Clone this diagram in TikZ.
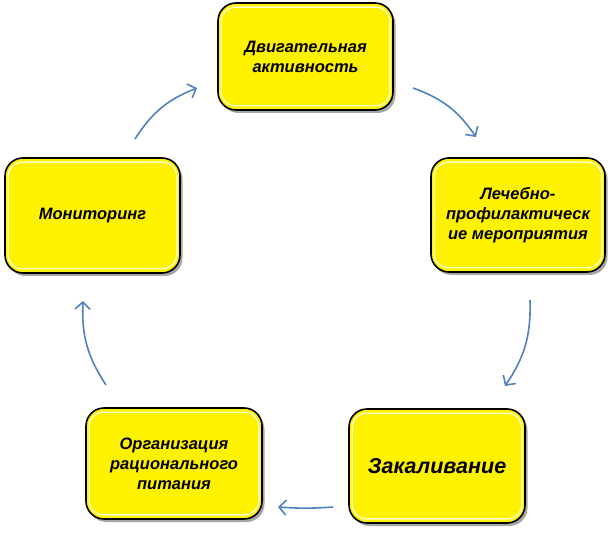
\documentclass[tikz,border=0pt]{standalone}
\usepackage{fontspec}
\setmainfont{Liberation Sans}
\usetikzlibrary{arrows.meta,shadows,calc}
\tikzset{
  stagebox/.style={draw=black, line width=1.6pt, fill=yellow, rounded corners=18pt,
    align=center, font=\fontsize{16.5}{20}\selectfont\bfseries\itshape,
    inner sep=2pt,
    drop shadow={shadow xshift=2.5pt, shadow yshift=-3pt, opacity=0.35, fill=black}},
  cyclearrow/.style={draw={rgb,255:red,79;green,129;blue,189}, line width=1.6pt,
    -{Straight Barb[length=7pt,width=15pt]}},
  gloss/.style={draw=white, line width=1.4pt, opacity=0.8, rounded corners=14pt}
}
\newcommand{\glossfor}[1]{%
  \draw[gloss] ($(#1.south west)+(4pt,5pt)$) rectangle ($(#1.north east)+(-4pt,-5pt)$);}
\begin{document}
\begin{tikzpicture}[x=1pt,y=1pt]
\useasboundingbox (0,0) rectangle (612,533);
\node[stagebox, minimum width=175pt, minimum height=107pt] (top) at (305.5,476.5)
  {Двигательная\\активность};
\node[stagebox, minimum width=174pt, minimum height=114pt] (right) at (518,318)
  {Лечебно-\\профилактическ\\ие мероприятия};
\node[stagebox, minimum width=176pt, minimum height=114pt,
  font=\fontsize{21.5}{24}\selectfont\bfseries\itshape] (harden) at (437,67)
  {Закаливание};
\node[stagebox, minimum width=176pt, minimum height=111pt] (food) at (174,69.5)
  {Организация\\рационального\\питания};
\node[stagebox, minimum width=175pt, minimum height=115pt] (mon) at (92.5,317.5)
  {Мониторинг};
\foreach \n in {top,right,harden,food,mon}{\glossfor{\n}}
\coordinate (a1s) at (135,394); \coordinate (a1e) at (197,445);
\coordinate (a2s) at (413,445); \coordinate (a2e) at (476,396);
\coordinate (a3s) at (530,233); \coordinate (a3e) at (505,147);
\coordinate (a4s) at (333,26);  \coordinate (a4e) at (278,26);
\coordinate (a5s) at (106,148); \coordinate (a5e) at (83,232);
\draw[cyclearrow] (a1s) to[bend left=18] (a1e);
\draw[cyclearrow] (a2s) to[bend left=18] (a2e);
\draw[cyclearrow] (a3s) to[bend left=18] (a3e);
\draw[cyclearrow] (a4s) to[bend left=4] (a4e);
\draw[cyclearrow] (a5s) to[bend left=18] (a5e);
\end{tikzpicture}
\end{document}
